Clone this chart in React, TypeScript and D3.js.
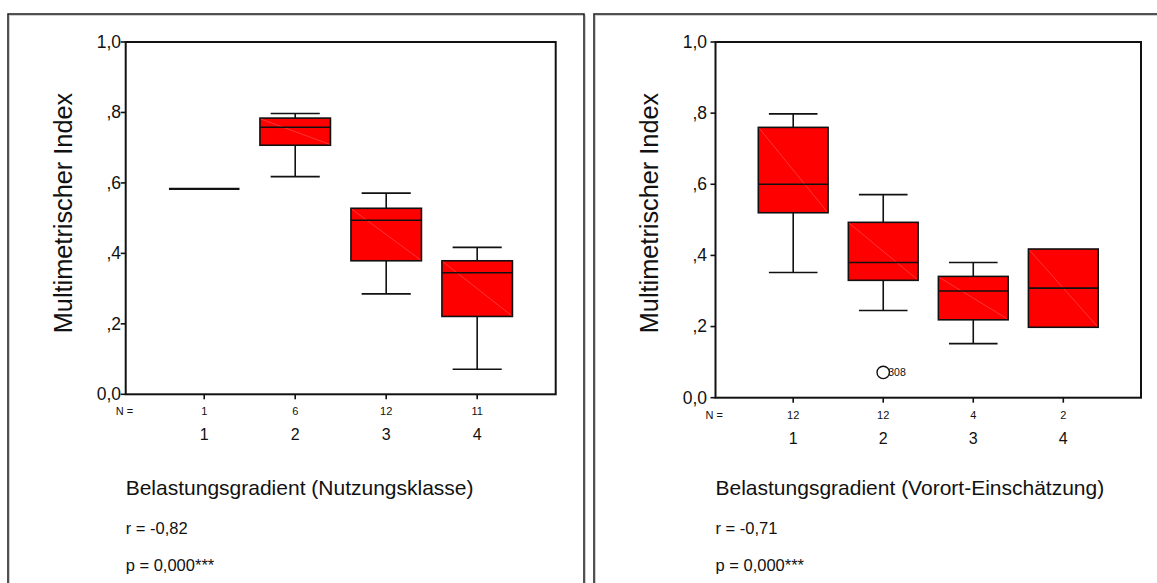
import React from "react";
import * as d3 from "d3";

// ---------- data ----------
const categories = ["1", "2", "3", "4"];
const yTicks = [0, 0.2, 0.4, 0.6, 0.8, 1.0];
const yTickLabels = ["0,0", ",2", ",4", ",6", ",8", "1,0"];

// left panel: Belastungsgradient (Nutzungsklasse)
const leftN = [1, 6, 12, 11];
const leftLow = [0.583, 0.618, 0.285, 0.071];
const leftQ1 = [0.583, 0.707, 0.379, 0.221];
const leftMedian = [0.583, 0.758, 0.494, 0.345];
const leftQ3 = [0.583, 0.784, 0.528, 0.379];
const leftHigh = [0.583, 0.797, 0.571, 0.417];

// right panel: Belastungsgradient (Vorort-Einschätzung)
const rightN = [12, 12, 4, 2];
const rightLow = [0.352, 0.245, 0.152, 0.198];
const rightQ1 = [0.52, 0.33, 0.219, 0.198];
const rightMedian = [0.6, 0.38, 0.3, 0.308];
const rightQ3 = [0.76, 0.493, 0.341, 0.418];
const rightHigh = [0.798, 0.571, 0.38, 0.418];
const rightOutlierCat = ["2"];
const rightOutlierVal = [0.071];
const rightOutlierLabel = ["308"];

const FONT = "'Liberation Sans', Arial, Helvetica, sans-serif";

type PanelProps = {
  frameX: number;
  frameW: number;
  plotX0: number;
  plotX1: number;
  plotY0: number;
  plotY1: number;
  n: number[];
  low: number[];
  q1: number[];
  med: number[];
  q3: number[];
  high: number[];
  outCat?: string[];
  outVal?: number[];
  outLabel?: string[];
  xTitle: string;
  rText: string;
  pText: string;
};

function Panel(p: PanelProps) {
  const x = d3.scalePoint<string>().domain(categories).range([p.plotX0, p.plotX1]).padding(0.863);
  const y = d3.scaleLinear().domain([0, 1]).range([p.plotY1, p.plotY0]);
  const step = x.step();
  const boxW = step * 0.775;
  const capW = step * 0.54;
  const ink = "#111";

  return (
    <g>
      {/* panel frame */}
      <rect x={p.frameX + 1.3} y={15.3} width={p.frameW} height={620} fill="none" stroke="#c4c4c4" strokeWidth={1} />
      <rect x={p.frameX} y={14} width={p.frameW} height={620} fill="none" stroke="#1a1a1a" strokeWidth={1.5} />

      {/* y ticks */}
      {yTicks.map((t, i) => (
        <g key={"yt" + i}>
          <line x1={p.plotX0 - 5} x2={p.plotX0} y1={y(t)} y2={y(t)} stroke={ink} strokeWidth={1.6} />
          <text x={p.frameX + 113} y={y(t) + 5.8} textAnchor="end" fontFamily={FONT} fontSize={17.5} fill="#111">
            {yTickLabels[i]}
          </text>
        </g>
      ))}

      {/* x ticks, N row, category labels */}
      <text x={p.plotX0 - 10} y={p.plotY1 + 21} fontFamily={FONT} fontSize={11} fill="#111">
        N =
      </text>
      {categories.map((c, i) => (
        <g key={"xt" + c}>
          <line x1={x(c)!} x2={x(c)!} y1={p.plotY1} y2={p.plotY1 + 5} stroke={ink} strokeWidth={1.6} />
          <text x={x(c)!} y={p.plotY1 + 21} textAnchor="middle" fontFamily={FONT} fontSize={11} fill="#111">
            {p.n[i]}
          </text>
          <text x={x(c)!} y={p.plotY1 + 46} textAnchor="middle" fontFamily={FONT} fontSize={16} fill="#111">
            {c}
          </text>
        </g>
      ))}

      {/* boxes */}
      {categories.map((c, i) => {
        const cx = x(c)!;
        const x0 = cx - boxW / 2;
        if (p.q1[i] === p.q3[i]) {
          return (
            <line key={"b" + c} x1={x0} x2={x0 + boxW} y1={y(p.med[i])} y2={y(p.med[i])} stroke={ink} strokeWidth={2.2} />
          );
        }
        return (
          <g key={"b" + c}>
            {p.high[i] > p.q3[i] && (
              <>
                <line x1={cx} x2={cx} y1={y(p.high[i])} y2={y(p.q3[i])} stroke={ink} strokeWidth={1.6} />
                <line x1={cx - capW / 2} x2={cx + capW / 2} y1={y(p.high[i])} y2={y(p.high[i])} stroke={ink} strokeWidth={1.6} />
              </>
            )}
            {p.low[i] < p.q1[i] && (
              <>
                <line x1={cx} x2={cx} y1={y(p.q1[i])} y2={y(p.low[i])} stroke={ink} strokeWidth={1.6} />
                <line x1={cx - capW / 2} x2={cx + capW / 2} y1={y(p.low[i])} y2={y(p.low[i])} stroke={ink} strokeWidth={1.6} />
              </>
            )}
            <rect x={x0} y={y(p.q3[i])} width={boxW} height={y(p.q1[i]) - y(p.q3[i])} fill="#ff0000" stroke={ink} strokeWidth={1.6} />
            <line x1={x0 + 1} y1={y(p.q3[i]) + 1} x2={x0 + boxW - 1} y2={y(p.q1[i]) - 1} stroke="#ff6a6a" strokeWidth={0.5} />
            <line x1={x0} x2={x0 + boxW} y1={y(p.med[i])} y2={y(p.med[i])} stroke={ink} strokeWidth={1.6} />
          </g>
        );
      })}

      {/* outliers */}
      {(p.outCat || []).map((c, i) => (
        <g key={"o" + i}>
          <circle cx={x(c)!} cy={y(p.outVal![i])} r={6.2} fill="#fff" stroke={ink} strokeWidth={1.4} />
          <text x={x(c)! + 5} y={y(p.outVal![i]) + 4} fontFamily={FONT} fontSize={10.5} fill="#111">
            {p.outLabel![i]}
          </text>
        </g>
      ))}

      {/* plot frame */}
      <rect x={p.plotX0} y={p.plotY0} width={p.plotX1 - p.plotX0} height={p.plotY1 - p.plotY0} fill="none" stroke={ink} strokeWidth={2} />

      {/* titles */}
      <text
        transform={`translate(${p.frameX + 64},213) rotate(-90)`}
        textAnchor="middle"
        fontFamily={FONT}
        fontSize={25.3}
        fill="#111"
      >
        Multimetrischer Index
      </text>
      <text x={p.plotX0} y={495} fontFamily={FONT} fontSize={21} fill="#111">
        {p.xTitle}
      </text>
      <text x={p.plotX0} y={534} fontFamily={FONT} fontSize={16.5} fill="#111">
        {p.rText}
      </text>
      <text x={p.plotX0} y={571} fontFamily={FONT} fontSize={16.5} fill="#111">
        {p.pText}
      </text>
    </g>
  );
}

export default function App() {
  return (
    <svg
      width={1157}
      height={583}
      style={{ position: "absolute", left: 0, top: 0, display: "block", background: "#fff" }}
    >
      <rect x={0} y={0} width={1157} height={583} fill="#fff" />
      <Panel
        frameX={8}
        frameW={576}
        plotX0={125.7}
        plotX1={555.7}
        plotY0={42}
        plotY1={394.3}
        n={leftN}
        low={leftLow}
        q1={leftQ1}
        med={leftMedian}
        q3={leftQ3}
        high={leftHigh}
        xTitle="Belastungsgradient (Nutzungsklasse)"
        rText="r = -0,82"
        pText="p = 0,000***"
      />
      <Panel
        frameX={594}
        frameW={580}
        plotX0={715.5}
        plotX1={1141}
        plotY0={42}
        plotY1={397.7}
        n={rightN}
        low={rightLow}
        q1={rightQ1}
        med={rightMedian}
        q3={rightQ3}
        high={rightHigh}
        outCat={rightOutlierCat}
        outVal={rightOutlierVal}
        outLabel={rightOutlierLabel}
        xTitle="Belastungsgradient (Vorort-Einschätzung)"
        rText="r = -0,71"
        pText="p = 0,000***"
      />
    </svg>
  );
}
